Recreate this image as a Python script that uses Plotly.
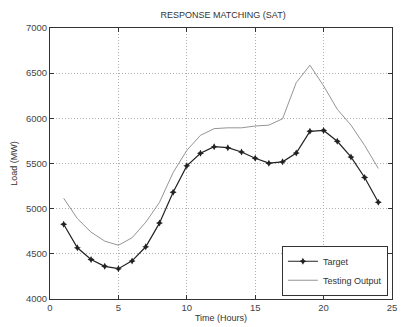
import plotly.graph_objects as go

hours = list(range(1, 25))
target = [4828, 4567, 4437, 4362, 4336, 4422, 4578, 4840, 5182, 5474, 5613, 5686,
          5675, 5628, 5558, 5504, 5518, 5615, 5856, 5866, 5746, 5573, 5345, 5071]
testing = [5115, 4890, 4740, 4641, 4595, 4678, 4850, 5069, 5400, 5645, 5812, 5886,
           5895, 5895, 5915, 5925, 5995, 6395, 6588, 6360, 6100, 5925, 5700, 5445]

x_ticks = [0, 5, 10, 15, 20, 25]
y_ticks = [4000, 4500, 5000, 5500, 6000, 6500, 7000]

fig = go.Figure()
fig.add_trace(go.Scatter(x=hours, y=target, mode="lines+markers", name="Target",
                         line=dict(color="#222222", width=1.2),
                         marker=dict(symbol="star-diamond", size=5, color="#222222")))
fig.add_trace(go.Scatter(x=hours, y=testing, mode="lines", name="Testing Output",
                         line=dict(color="#888888", width=0.9)))

axis_common = dict(showline=True, linecolor="#333333", linewidth=1, mirror="ticks",
                   ticks="inside", ticklen=4, tickcolor="#333333",
                   showgrid=True, gridcolor="#b0b0b0", griddash="1px,2px", gridwidth=1,
                   zeroline=False, ticklabeloverflow="allow",
                   tickfont=dict(family="Liberation Sans, Arial", size=9.5, color="#444444"))

fig.update_layout(
    width=402, height=327,
    margin=dict(l=50, r=5, t=28, b=27),
    paper_bgcolor="white", plot_bgcolor="white",
    title=dict(text="RESPONSE MATCHING (SAT)", x=0.555, xanchor="center", y=0.955, yanchor="middle",
               font=dict(family="Liberation Sans, Arial", size=9, color="#333333")),
    xaxis=dict(range=[0, 25], tickvals=x_ticks,
               title=dict(text="Time (Hours)", standoff=2,
                          font=dict(family="Liberation Sans, Arial", size=9, color="#333333")),
               **axis_common),
    yaxis=dict(range=[4000, 7000], tickvals=y_ticks,
               title=dict(text="Load (MW)", standoff=6,
                          font=dict(family="Liberation Sans, Arial", size=9, color="#333333")),
               **axis_common),
    legend=dict(x=0.988, y=0.012, xanchor="right", yanchor="bottom",
                bordercolor="#333333", borderwidth=1, bgcolor="white",
                font=dict(family="Liberation Sans, Arial", size=9, color="#333333"),
                tracegroupgap=0, itemwidth=30, traceorder="normal"),
    showlegend=True,
)

fig.write_html("out.html")
